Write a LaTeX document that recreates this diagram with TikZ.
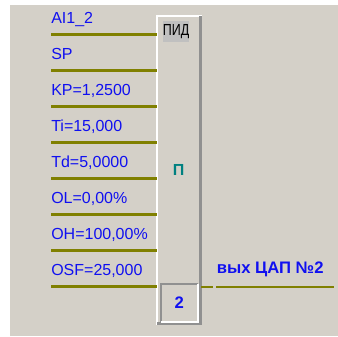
\documentclass[tikz,border=0pt]{standalone}
\usepackage{fontspec}
\setmainfont{Liberation Sans}
\definecolor{bg}{HTML}{D4D0C8}
\definecolor{olivel}{HTML}{808000}
\definecolor{lblue}{HTML}{1010F0}
\definecolor{tealc}{HTML}{008080}
\definecolor{shadow}{HTML}{909090}
\definecolor{hdr}{HTML}{C0C0C0}
\tikzset{
  lbl/.style={anchor=base west, inner sep=0pt, text=lblue, font=\fontsize{12}{12}\selectfont},
  wire/.style={draw=olivel, line width=2pt},
}
\begin{document}
\begin{tikzpicture}[x=0.75pt,y=-0.75pt]
\useasboundingbox (0,0) rectangle (338,336);
\fill[white] (0,0) rectangle (338,336);
\fill[bg] (10,5) rectangle (338,336);
% block
\node (pid) [draw=none, fill=bg, minimum width=33pt, minimum height=231pt, inner sep=0pt, anchor=north west] at (157,16) {};
\draw[white, line width=1.5pt] (pid.south west) -- (pid.north west) -- (pid.north east);
\draw[shadow, line width=2.2pt] ([xshift=-1.1pt]pid.north east) -- ([xshift=-1.1pt,yshift=1.1pt]pid.south east) -- ([yshift=1.1pt]pid.south west);
% header
\node (hdr) [fill=hdr, minimum width=20pt, minimum height=15.5pt, inner sep=0pt, font=\fontsize{12}{12}\selectfont] at (176,31.5) {\scalebox{0.78}[1]{ПИД}};
% type
\node (typ) [text=tealc, font=\bfseries\fontsize{12}{12}\selectfont, inner sep=0pt] at (178.5,169.5) {П};
% number box
\node (num) [draw=none, minimum width=27pt, minimum height=27.5pt, inner sep=0pt, anchor=north west, text=lblue, font=\bfseries\fontsize{12.5}{12.5}\selectfont] at (161,284.3) {2};
\draw[shadow, line width=1.5pt] (num.south west) -- (num.north west) -- (num.north east);
\draw[white, line width=1.5pt] (num.north east) -- (num.south east) -- (num.south west);
% labels and wires
\foreach \t/\n [count=\i from 0] in {{AI1\_2}/a, {SP}/b, {KP=1,2500}/c, {Ti=15,000}/d, {Td=5,0000}/e, {OL=0,00\%}/f, {OH=100,00\%}/g, {OSF=25,000}/h} {
  \node (\n) [lbl] at (51,23+36*\i) {\t};
  \coordinate (\n s) at (51,34.5+36*\i);
  \coordinate (\n e) at (157,34.5+36*\i);
  \draw[wire] (\n s) -- (\n e);
}
% output
\coordinate (o1) at (201,287);
\coordinate (o2) at (213,287);
\coordinate (o3) at (216,287);
\coordinate (o4) at (334,287);
\draw[wire] (o1) -- (o2);
\draw[wire] (o3) -- (o4);
\node (out) [anchor=base west, inner sep=0pt, text=lblue, font=\bfseries\fontsize{12.5}{12.5}\selectfont] at (216.5,273) {вых ЦАП №2};
\end{tikzpicture}
\end{document}
